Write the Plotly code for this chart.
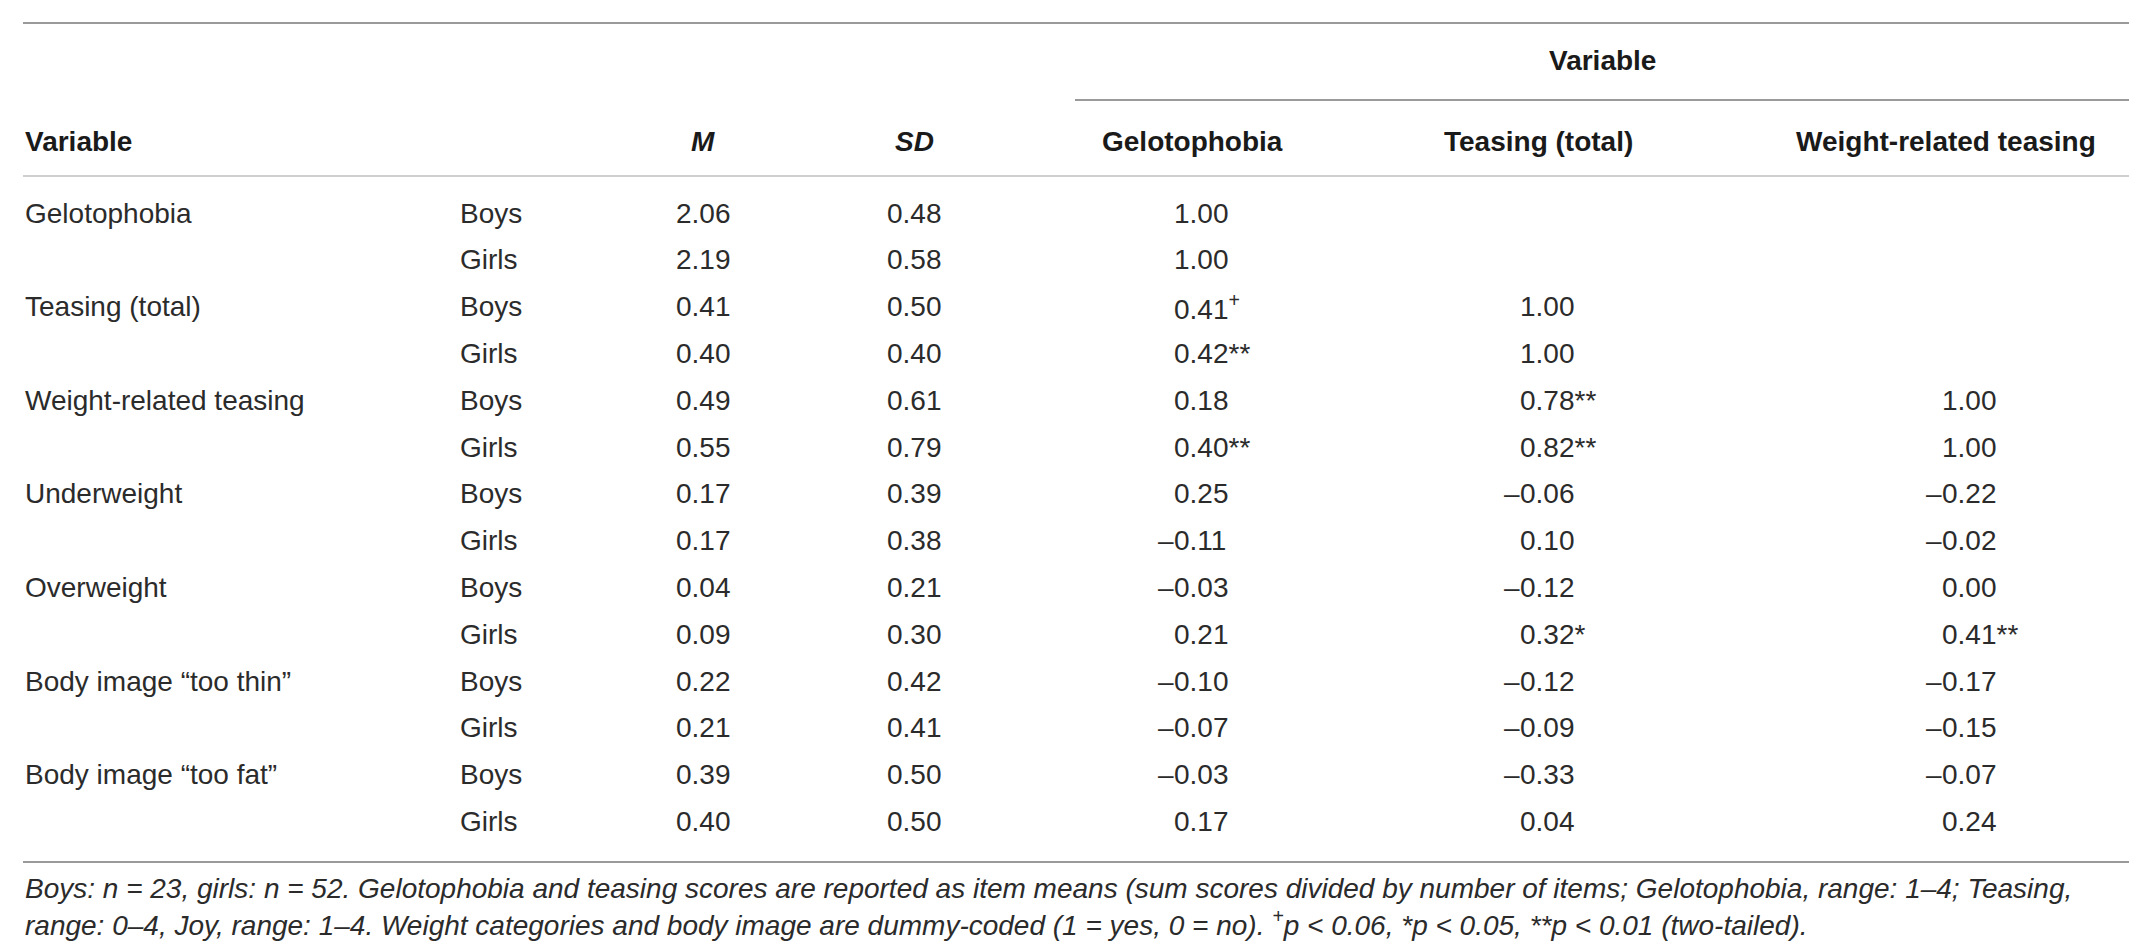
import plotly.graph_objects as go

# table content
variables = ["Gelotophobia", "Teasing (total)", "Weight-related teasing", "Underweight",
             "Overweight", "Body image “too thin”", "Body image “too fat”"]
groups = ["Boys", "Girls"]

m_vals = [2.06, 2.19, 0.41, 0.40, 0.49, 0.55, 0.17, 0.17, 0.04, 0.09, 0.22, 0.21, 0.39, 0.40]
sd_vals = [0.48, 0.58, 0.50, 0.40, 0.61, 0.79, 0.39, 0.38, 0.21, 0.30, 0.42, 0.41, 0.50, 0.50]

gelo_r = [1.00, 1.00, 0.41, 0.42, 0.18, 0.40, 0.25, -0.11, -0.03, 0.21, -0.10, -0.07, -0.03, 0.17]
gelo_sig = ["", "", "+", "**", "", "**", "", "", "", "", "", "", "", ""]
teas_r = [None, None, 1.00, 1.00, 0.78, 0.82, -0.06, 0.10, -0.12, 0.32, -0.12, -0.09, -0.33, 0.04]
teas_sig = ["", "", "", "", "**", "**", "", "", "", "*", "", "", "", ""]
wt_r = [None, None, None, None, 1.00, 1.00, -0.22, -0.02, 0.00, 0.41, -0.17, -0.15, -0.07, 0.24]
wt_sig = ["", "", "", "", "", "", "", "", "", "**", "", "", "", ""]

col_headers = ["Gelotophobia", "Teasing (total)", "Weight-related teasing"]
footnote_1 = ("Boys: n = 23, girls: n = 52. Gelotophobia and teasing scores are reported as item means "
              "(sum scores divided by number of items; Gelotophobia, range: 1–4; Teasing,")
footnote_2 = ("range: 0–4, Joy, range: 1–4. Weight categories and body image are dummy-coded "
              "(1 = yes, 0 = no). <sup>+</sup>p &lt; 0.06, *p &lt; 0.05, **p &lt; 0.01 (two-tailed).")

W, H = 2137, 950
FONT = "Liberation Sans"
BODY = "#2b2b2b"
HEAD = "#1a1a1a"
row_y0, row_h = 205, 46.8
x_var, x_grp, x_m, x_sd = 15, 450, 695, 906
x_corr = [1164, 1510, 1932]
x_head = [1184, 1530, 1938]

fig = go.Figure()
ann = []


def txt(x, y, s, anchor="left", size=28, color=BODY, bold=False):
    if bold:
        s = "<b>" + s + "</b>"
    ann.append(dict(x=x, y=y, xref="x", yref="y", text=s, showarrow=False,
                    xanchor=anchor, yanchor="middle",
                    font=dict(family=FONT, size=size, color=color)))


# header
txt(1594, 52, "Variable", "center", color=HEAD, bold=True)
txt(x_var, 133, "Variable", color=HEAD, bold=True)
txt(x_m, 133, "<i>M</i>", "center", color=HEAD, bold=True)
txt(x_sd, 133, "<i>SD</i>", "center", color=HEAD, bold=True)
for xh, h in zip(x_head, col_headers):
    txt(xh, 133, h, "center", color=HEAD, bold=True)

# body
for i in range(len(m_vals)):
    y = row_y0 + i * row_h
    if i % 2 == 0:
        txt(x_var, y, variables[i // 2])
    txt(x_grp, y, groups[i % 2])
    txt(x_m, y, f"{m_vals[i]:.2f}", "center")
    txt(x_sd, y, f"{sd_vals[i]:.2f}", "center")
    for xc, vals, sigs in zip(x_corr, [gelo_r, teas_r, wt_r], [gelo_sig, teas_sig, wt_sig]):
        v = vals[i]
        if v is None:
            continue
        s = sigs[i]
        if s == "+":
            s = "<sup>+</sup>"
        txt(xc, y, f"{abs(v):.2f}" + s)
        if v < 0:
            txt(xc + 4, y, "–", "right")

# footnote
foot_font = dict(family=FONT, size=28, color=BODY)
for y, s in [(880, footnote_1), (915, footnote_2)]:
    ann.append(dict(x=x_var, y=y, xref="x", yref="y", text="<i>" + s + "</i>",
                    showarrow=False, xanchor="left", yanchor="middle", font=foot_font))

# rules
shapes = [
    dict(type="line", x0=15, x1=2121, y0=15, y1=15, line=dict(color="#9a9a9a", width=2)),
    dict(type="line", x0=1067, x1=2121, y0=92, y1=92, line=dict(color="#9a9a9a", width=2)),
    dict(type="line", x0=15, x1=2121, y0=168, y1=168, line=dict(color="#cfcfcf", width=2)),
    dict(type="line", x0=15, x1=2121, y0=854, y1=854, line=dict(color="#9a9a9a", width=2)),
]
for s in shapes:
    s.update(xref="x", yref="y")

fig.update_layout(
    width=W, height=H,
    margin=dict(l=0, r=0, t=0, b=0),
    paper_bgcolor="white", plot_bgcolor="white",
    xaxis=dict(range=[0, W], visible=False, fixedrange=True),
    yaxis=dict(range=[H, 0], visible=False, fixedrange=True),
    annotations=ann, shapes=shapes, showlegend=False,
)

fig.write_html("out.html", config={"displayModeBar": False})
